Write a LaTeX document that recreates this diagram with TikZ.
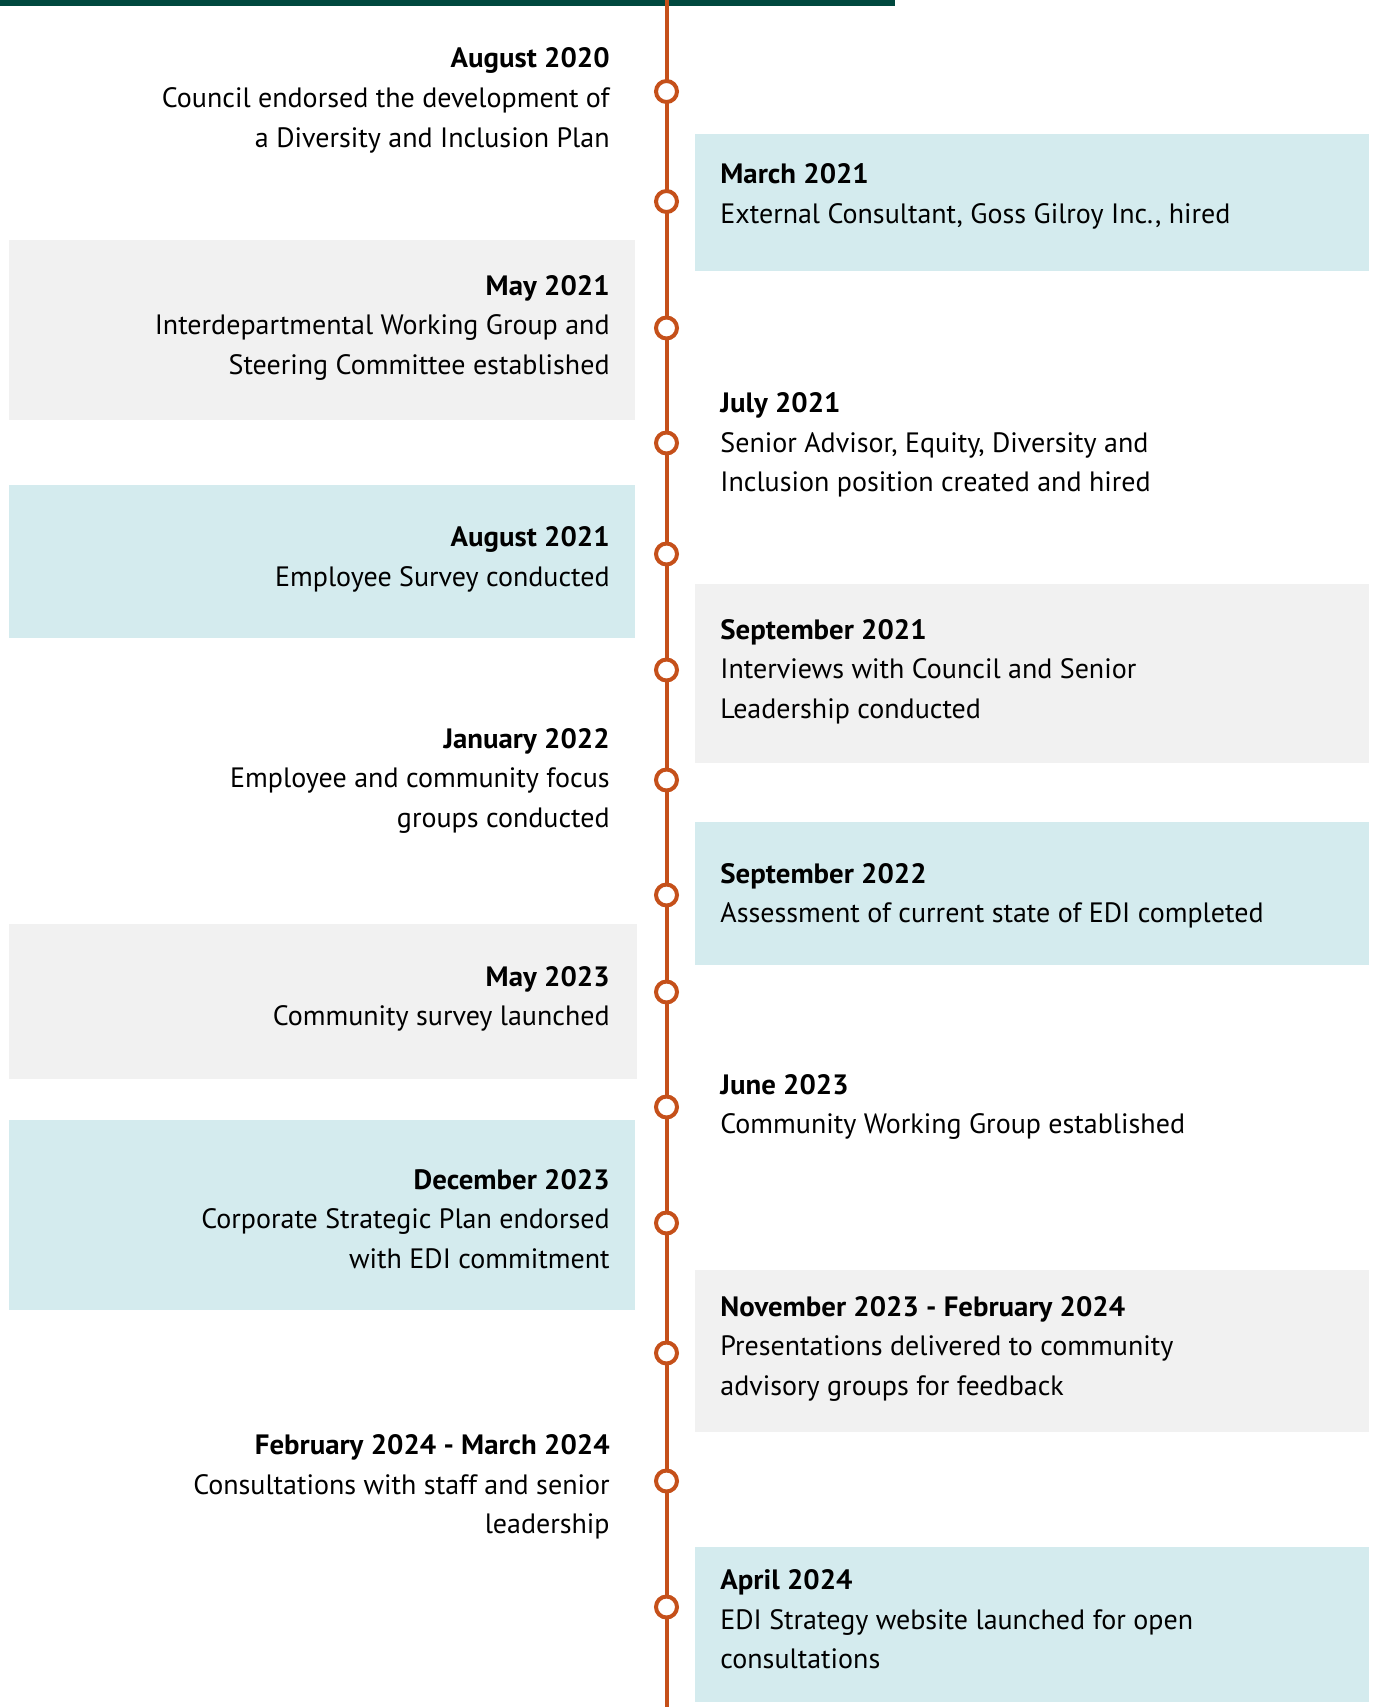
\documentclass[tikz,border=0pt]{standalone}
\usepackage{fontspec}
\setmainfont{PT Sans}[BoldFeatures={FakeStretch=1.03}]
\definecolor{barGreen}{RGB}{0,72,62}
\definecolor{lineOrange}{RGB}{197,80,26}
\definecolor{teal}{RGB}{212,235,238}
\definecolor{grayBox}{RGB}{241,241,241}
\newcommand{\entry}[3][r]{\begin{tabular}[t]{@{}#1@{}}\textbf{#2}\\#3\end{tabular}}
\begin{document}
\begin{tikzpicture}[x=0.5pt,y=-0.5pt,
  lefttext/.style={anchor=base east,inner sep=0pt,font=\fontsize{14pt}{19.85pt}\selectfont},
  righttext/.style={anchor=base west,inner sep=0pt,font=\fontsize{14pt}{19.85pt}\selectfont},
  dot/.style={circle,draw=lineOrange,line width=2pt,fill=white,minimum size=10.5pt,inner sep=0pt},
  tealbox/.style={fill=teal},
  graybox/.style={fill=grayBox}]
% canvas
\useasboundingbox (0,0) rectangle (1373,1707);
\fill[white] (0,0) rectangle (1373,1707);
% header bar
\fill[barGreen] (0,0) rectangle (895,6);
% background panels
\fill[tealbox] (695,134) rectangle (1369,271);
\fill[graybox] (9,240) rectangle (635,420);
\fill[tealbox] (9,485) rectangle (635,638);
\fill[graybox] (695,584) rectangle (1369,763);
\fill[tealbox] (695,822) rectangle (1369,965);
\fill[graybox] (9,924) rectangle (637,1079);
\fill[tealbox] (9,1120) rectangle (635,1310);
\fill[graybox] (695,1270) rectangle (1369,1432);
\fill[tealbox] (695,1547) rectangle (1369,1702);
% timeline axis
\coordinate (top) at (666.5,0);
\coordinate (bottom) at (666.5,1707);
\draw[lineOrange,line width=2pt] (top) -- (bottom);
% milestones
\foreach \n/\y in {1/91.5,2/201.5,3/328,4/443,5/554,6/670,7/780,8/895,9/992,10/1107,11/1223,12/1353,13/1481,14/1607}
  \node[dot] (c\n) at (666.5,\y) {};
% entries
\node[lefttext] (e1) at (610,68) {\entry{August 2020}{Council endorsed the development of\\a Diversity and Inclusion Plan}};
\node[righttext] (e2) at (720,184) {\entry[l]{March 2021}{External Consultant, Goss Gilroy Inc., hired}};
\node[lefttext] (e3) at (610,295) {\entry{May 2021}{Interdepartmental Working Group and\\Steering Committee established}};
\node[righttext] (e4) at (720,412.5) {\entry[l]{July 2021}{Senior Advisor, Equity, Diversity and\\Inclusion position created and hired}};
\node[lefttext] (e5) at (610,546.5) {\entry{August 2021}{Employee Survey conducted}};
\node[righttext] (e6) at (720,639) {\entry[l]{September 2021}{Interviews with Council and Senior\\Leadership conducted}};
\node[lefttext] (e7) at (610,748) {\entry{January 2022}{Employee and community focus\\groups conducted}};
\node[righttext] (e8) at (720,883) {\entry[l]{September 2022}{Assessment of current state of EDI completed}};
\node[lefttext] (e9) at (610,986) {\entry{May 2023}{Community survey launched}};
\node[righttext] (e10) at (720,1094) {\entry[l]{June 2023}{Community Working Group established}};
\node[lefttext] (e11) at (610,1189) {\entry{December 2023}{Corporate Strategic Plan endorsed\\with EDI commitment}};
\node[righttext] (e12) at (720,1316) {\entry[l]{November 2023 - February 2024}{Presentations delivered to community\\advisory groups for feedback}};
\node[lefttext] (e13) at (610,1454.5) {\entry{February 2024 - March 2024}{Consultations with staff and senior\\leadership}};
\node[righttext] (e14) at (720,1589.5) {\entry[l]{April 2024}{EDI Strategy website launched for open\\consultations}};
\end{tikzpicture}
\end{document}
